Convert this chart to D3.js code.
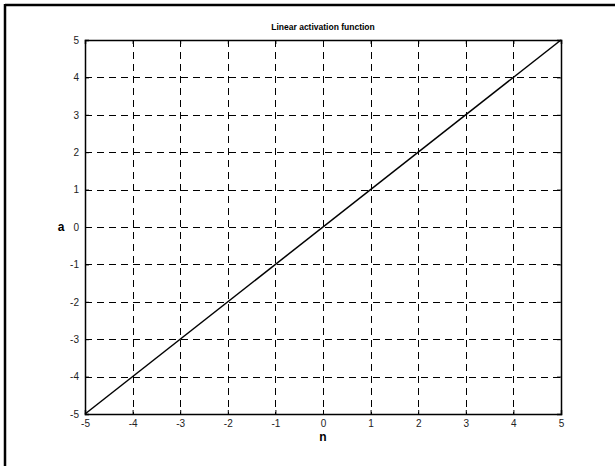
<!DOCTYPE html>
<html><head><meta charset="utf-8">
<script src="https://cdn.jsdelivr.net/npm/d3@7"></script>
<style>body{margin:0;background:#fff;} svg{display:block;}</style>
</head><body>
<script>
const title = "Linear activation function";
const xLabel = "n";
const yLabel = "a";
const xTicks = [-5,-4,-3,-2,-1,0,1,2,3,4,5];
const yTicks = [-5,-4,-3,-2,-1,0,1,2,3,4,5];
const nValues = [-5, 5];
const aValues = [-5, 5];

const W = 615, H = 466;
const m = {left:85, top:40, right:561, bottom:414};
const svg = d3.select("body").append("svg").attr("width",W).attr("height",H);
svg.append("rect").attr("width",W).attr("height",H).attr("fill","#fff");
svg.append("line").attr("x1",5).attr("y1",5).attr("x2",615).attr("y2",5).attr("stroke","#000").attr("stroke-width",2.5);
svg.append("line").attr("x1",5).attr("y1",4).attr("x2",5).attr("y2",466).attr("stroke","#000").attr("stroke-width",2.5);

const x = d3.scaleLinear().domain([-5,5]).range([m.left,m.right]);
const y = d3.scaleLinear().domain([-5,5]).range([m.bottom,m.top]);

const g = svg.append("g");
g.selectAll(".gx").data(xTicks.slice(1,-1)).enter().append("line")
 .attr("x1",d=>Math.round(x(d))+0.5).attr("x2",d=>Math.round(x(d))+0.5).attr("y1",m.top).attr("y2",m.bottom)
 .attr("stroke","#000").attr("stroke-width",1).attr("stroke-dasharray","7,5");
g.selectAll(".gy").data(yTicks.slice(1,-1)).enter().append("line")
 .attr("y1",d=>Math.round(y(d))+0.5).attr("y2",d=>Math.round(y(d))+0.5).attr("x1",m.left).attr("x2",m.right)
 .attr("stroke","#000").attr("stroke-width",1).attr("stroke-dasharray","7,5");

const font = "Arial, 'Liberation Sans', sans-serif";
const fmt = d => String(d);
const xb = svg.append("g").attr("transform",`translate(0,${m.bottom})`)
 .call(d3.axisBottom(x).tickValues(xTicks).tickSize(-4).tickPadding(6).tickFormat(fmt));
const xt = svg.append("g").attr("transform",`translate(0,${m.top})`)
 .call(d3.axisTop(x).tickValues(xTicks).tickSize(-4).tickFormat(""));
const yl = svg.append("g").attr("transform",`translate(${m.left},0)`)
 .call(d3.axisLeft(y).tickValues(yTicks).tickSize(-4).tickPadding(6).tickFormat(fmt));
const yr = svg.append("g").attr("transform",`translate(${m.right},0)`)
 .call(d3.axisRight(y).tickValues(yTicks).tickSize(-4).tickFormat(""));
[xb,xt,yl,yr].forEach(a=>{
  a.select(".domain").attr("stroke","#000").attr("stroke-width",1.5);
  a.selectAll(".tick line").attr("stroke","#000");
  a.selectAll("text").attr("font-family",font).attr("font-size",10).attr("fill","#222");
});
yl.selectAll("text").attr("dy","0.32em");

svg.append("path").datum(nValues.map((n,i)=>[n,aValues[i]]))
 .attr("d",d3.line().x(d=>x(d[0])).y(d=>y(d[1])))
 .attr("fill","none").attr("stroke","#000").attr("stroke-width",1.5);

svg.append("text").attr("x",(m.left+m.right)/2).attr("y",30).attr("text-anchor","middle")
 .attr("font-family",font).attr("font-weight","bold").attr("font-size",8.5).text(title);
svg.append("text").attr("x",(m.left+m.right)/2).attr("y",441).attr("text-anchor","middle")
 .attr("font-family",font).attr("font-weight","bold").attr("font-size",12).text(xLabel);
svg.append("text").attr("x",61).attr("y",y(0)+4).attr("text-anchor","middle")
 .attr("font-family",font).attr("font-weight","bold").attr("font-size",12).text(yLabel);
</script>
</body></html>
